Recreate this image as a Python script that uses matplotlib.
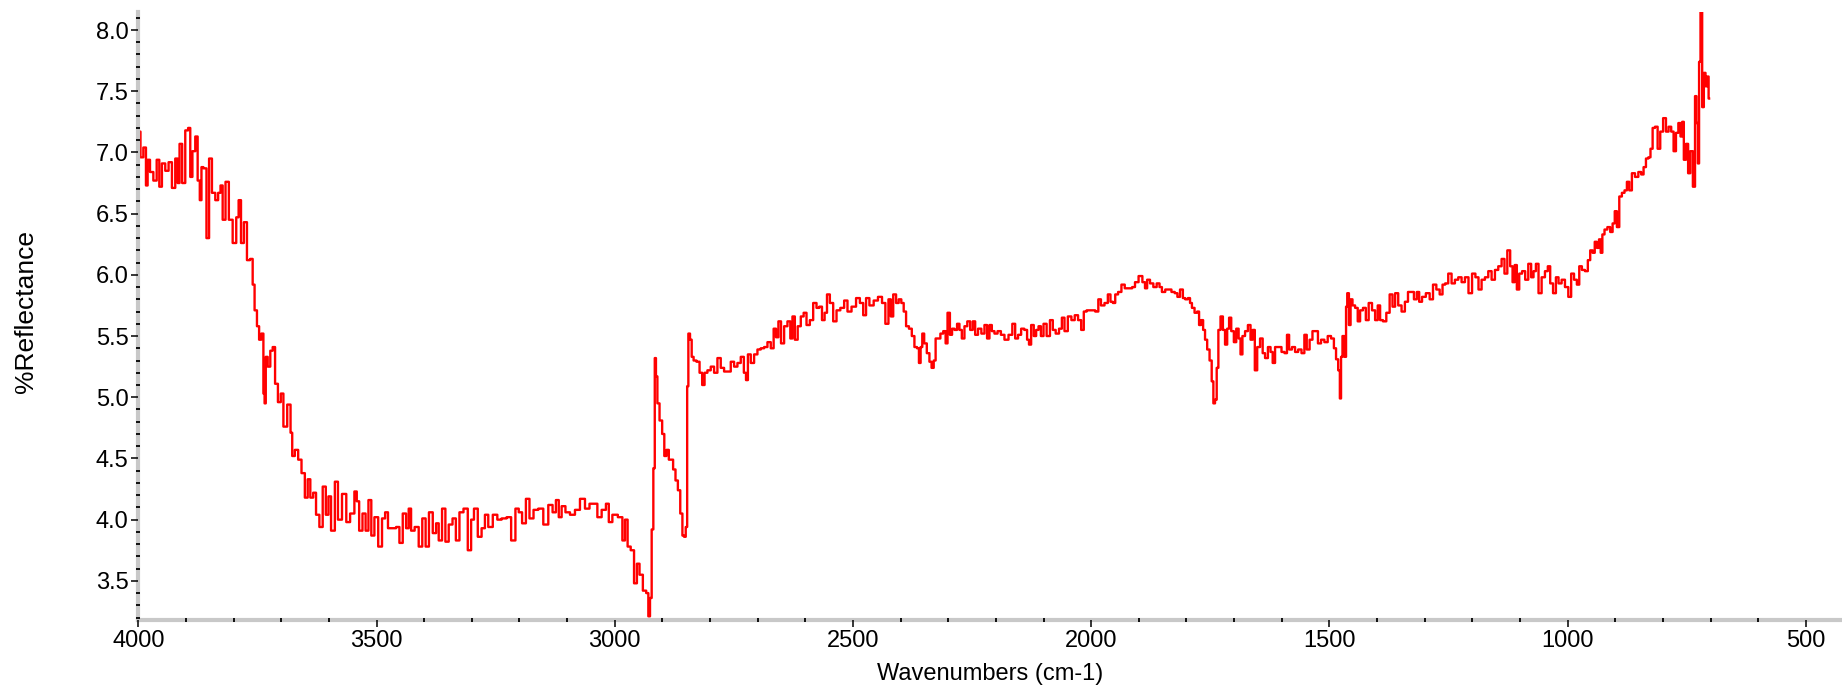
import numpy as np
import matplotlib
matplotlib.use("Agg")
import matplotlib.pyplot as plt
from matplotlib.ticker import MultipleLocator

plt.rcParams['font.family'] = ['Liberation Sans', 'DejaVu Sans']

# spectrum, descending wavenumber (cm-1) / %R
wavenumbers = [
    3998, 3993, 3986, 3982, 3979, 3972, 3965, 3958, 3954, 3947, 3940, 3933, 3926, 3919, 3916, 3911,
    3905, 3898, 3893, 3889, 3884, 3877, 3874, 3868, 3867, 3860, 3854, 3849, 3842, 3835, 3830, 3825,
    3821, 3813, 3807, 3797, 3792, 3787, 3782, 3775, 3769, 3762, 3758, 3754, 3748, 3745, 3739, 3736,
    3734, 3731, 3726, 3720, 3716, 3710, 3704, 3698, 3693, 3682, 3679, 3675, 3668, 3661, 3654, 3647,
    3642, 3636, 3630, 3624, 3616, 3610, 3603, 3599, 3592, 3583, 3579,
    3566, 3561, 3550, 3543, 3540, 3533, 3526, 3520, 3514, 3508, 3501, 3492, 3485, 3479, 3473, 3463,
    3455, 3449, 3441, 3435, 3430, 3425, 3415, 3408, 3400, 3394, 3386, 3378, 3372, 3367, 3358, 3353,
    3344, 3337, 3330, 3322, 3313, 3304, 3299, 3292, 3283, 3276, 3269, 3262, 3250, 3243, 3232, 3222,
    3213, 3204, 3199, 3190, 3183, 3175, 3166, 3155, 3145, 3134, 3127, 3120, 3115, 3108, 3099, 3089,
    3078, 3068, 3057, 3049, 3040, 3033, 3022, 3015, 3010, 3000,
    2987, 2981, 2976, 2970, 2963, 2956, 2951, 2945, 2937, 2931, 2928, 2924, 2921, 2917, 2915, 2912,
    2909, 2903, 2898, 2894, 2889, 2884, 2880, 2875, 2870, 2865, 2860, 2856, 2853, 2849, 2847, 2844,
    2840, 2837, 2832, 2825, 2819, 2814, 2809, 2802, 2795, 2788, 2781, 2774, 2767, 2760, 2753, 2746,
    2739, 2732, 2726, 2723, 2718, 2711, 2704, 2697, 2690, 2683, 2676, 2669, 2664, 2659, 2654, 2648,
    2641, 2634, 2629, 2625, 2619, 2613, 2606, 2601, 2594, 2587, 2580, 2573, 2568, 2562, 2557, 2552,
    2545, 2538, 2531, 2522, 2515, 2508, 2498, 2489, 2482, 2475, 2470, 2461, 2452, 2443, 2435, 2429,
    2422, 2419, 2412, 2407, 2401, 2396, 2391, 2386, 2379, 2374, 2368, 2363, 2360, 2356, 2353, 2348,
    2342, 2337, 2333, 2328, 2325, 2319, 2314, 2307, 2304, 2299, 2294, 2290, 2284, 2279, 2274, 2269,
    2263, 2257, 2251, 2246, 2241, 2234, 2227, 2221, 2216, 2211, 2206, 2200, 2193, 2186, 2178, 2169,
    2162, 2157, 2150, 2144, 2137, 2132, 2129, 2123, 2118, 2113, 2108, 2103, 2097, 2090, 2083, 2078,
    2071, 2064, 2059, 2053, 2045, 2038, 2031, 2024, 2018, 2013, 2006, 1996, 1987, 1983, 1976, 1968,
    1962, 1957, 1952, 1947, 1940, 1933, 1926, 1917, 1911, 1905, 1896, 1889, 1885, 1880, 1873, 1866,
    1859, 1854, 1849, 1840,
    1835, 1828, 1821, 1817, 1810, 1805, 1800, 1794, 1791, 1786, 1780, 1775, 1772, 1767, 1763, 1759,
    1754, 1749, 1745, 1742, 1738, 1735, 1731, 1726, 1721, 1717, 1712, 1709, 1703, 1698, 1693, 1688,
    1685, 1680, 1674, 1668, 1663, 1659, 1654, 1649, 1642, 1638, 1632, 1626, 1621, 1617, 1611, 1604,
    1597, 1591, 1587, 1582, 1575, 1569, 1562, 1555, 1550, 1545, 1538, 1533, 1527, 1521, 1514, 1507,
    1500, 1493, 1488, 1484, 1479, 1477, 1474, 1471, 1466, 1464, 1461, 1457, 1454, 1449, 1443, 1438,
    1433, 1426, 1421, 1414, 1407, 1401, 1396, 1391, 1384, 1377, 1370, 1365, 1359, 1352, 1345, 1338,
    1332, 1326, 1319, 1314, 1309, 1302, 1293, 1286, 1279, 1272, 1265, 1260, 1254,
    1247, 1240, 1233, 1226, 1219, 1212, 1204, 1197, 1190, 1184, 1177, 1170, 1163, 1156, 1149, 1142,
    1135, 1130, 1123, 1118, 1113, 1109, 1104, 1099, 1092, 1086, 1079, 1074, 1069, 1064, 1058, 1051,
    1044, 1039, 1034, 1027, 1022, 1016, 1009, 1002, 995, 990, 983, 978, 973, 967, 960, 955,
    950, 945, 941, 936, 932, 929, 925, 920, 913, 908, 903, 899, 894, 889, 883, 878,
    873, 868, 862, 855, 848, 843, 838, 833, 828, 824, 819, 814, 808, 803, 796, 791,
    785, 780, 775, 770, 765, 761, 758, 754, 749, 745, 740, 734, 731, 728, 725, 723,
    719, 716, 712, 709, 705, 703,
]

reflectance = [
    7.17, 6.96, 7.04, 6.73, 6.94, 6.84, 6.77, 6.94, 6.72, 6.91, 6.85, 6.92, 6.71, 6.95, 6.75, 7.07,
    6.75, 7.18, 7.20, 6.80, 7.01, 7.13, 6.77, 6.61, 6.88, 6.87, 6.30, 6.95, 6.67, 6.61, 6.67, 6.73,
    6.45, 6.76, 6.45, 6.26, 6.47, 6.61, 6.26, 6.43, 6.12, 6.13, 5.92, 5.71, 5.58, 5.47, 5.52, 5.03,
    4.95, 5.33, 5.25, 5.38, 5.41, 5.11, 4.96, 5.03, 4.76, 4.94, 4.71, 4.52, 4.57, 4.49, 4.38, 4.18,
    4.33, 4.18, 4.22, 4.04, 3.94, 4.27, 4.04, 4.19, 3.91, 4.31, 4.00,
    4.21, 3.98, 4.05, 4.23, 4.15, 3.91, 4.05, 3.91, 4.16, 3.87, 4.02, 3.78, 4.01, 4.06, 3.93, 3.93,
    3.94, 3.81, 4.05, 3.93, 4.09, 3.91, 3.94, 3.78, 4.01, 3.78, 4.06, 3.89, 3.97, 3.83, 4.09, 3.82,
    3.96, 4.01, 3.83, 4.06, 4.09, 3.75, 4.00, 4.09, 3.86, 3.93, 4.04, 3.94, 4.04, 4.00, 4.01, 4.02,
    3.83, 4.09, 4.06, 3.97, 4.17, 4.01, 4.08, 4.09, 3.96, 4.12, 4.06, 4.16, 4.02, 4.11, 4.06, 4.04,
    4.08, 4.17, 4.09, 4.13, 4.13, 4.02, 4.08, 4.13, 3.98, 4.04,
    4.02, 3.83, 4.00, 3.78, 3.75, 3.48, 3.64, 3.55, 3.42, 3.40, 3.21, 3.36, 3.92, 4.42, 5.32, 5.17,
    4.95, 4.81, 4.70, 4.52, 4.57, 4.49, 4.49, 4.41, 4.32, 4.24, 4.05, 3.87, 3.86, 3.94, 5.09, 5.52,
    5.47, 5.33, 5.30, 5.29, 5.20, 5.10, 5.20, 5.22, 5.25, 5.20, 5.32, 5.24, 5.21, 5.21, 5.29, 5.25,
    5.28, 5.33, 5.20, 5.14, 5.35, 5.28, 5.35, 5.39, 5.40, 5.41, 5.45, 5.40, 5.56, 5.49, 5.62, 5.44,
    5.58, 5.62, 5.48, 5.66, 5.47, 5.58, 5.66, 5.69, 5.59, 5.63, 5.77, 5.73, 5.74, 5.63, 5.69, 5.84,
    5.77, 5.62, 5.71, 5.73, 5.79, 5.70, 5.74, 5.81, 5.77, 5.67, 5.81, 5.75, 5.79, 5.82, 5.77, 5.60,
    5.80, 5.66, 5.84, 5.77, 5.80, 5.77, 5.70, 5.58, 5.56, 5.50, 5.41, 5.40, 5.28, 5.41, 5.52, 5.44,
    5.36, 5.29, 5.24, 5.30, 5.48, 5.48, 5.52, 5.54, 5.44, 5.69, 5.51, 5.56, 5.55, 5.60, 5.55, 5.48,
    5.58, 5.62, 5.55, 5.62, 5.51, 5.56, 5.52, 5.59, 5.48, 5.59, 5.54, 5.52, 5.54, 5.51, 5.47, 5.51,
    5.60, 5.48, 5.51, 5.56, 5.55, 5.47, 5.43, 5.59, 5.50, 5.55, 5.58, 5.50, 5.60, 5.50, 5.63, 5.55,
    5.52, 5.56, 5.65, 5.54, 5.66, 5.63, 5.67, 5.63, 5.55, 5.70, 5.71, 5.71, 5.70, 5.80, 5.75, 5.77,
    5.84, 5.78, 5.77, 5.84, 5.86, 5.92, 5.89, 5.89, 5.90, 5.94, 5.99, 5.94, 5.89, 5.96, 5.93, 5.90,
    5.93, 5.90, 5.86, 5.88,
    5.88, 5.86, 5.85, 5.82, 5.88, 5.81, 5.80, 5.81, 5.77, 5.73, 5.69, 5.70, 5.59, 5.63, 5.55, 5.47,
    5.39, 5.30, 5.13, 4.95, 4.98, 5.24, 5.55, 5.66, 5.55, 5.43, 5.56, 5.65, 5.54, 5.45, 5.56, 5.48,
    5.35, 5.50, 5.54, 5.59, 5.47, 5.55, 5.22, 5.41, 5.48, 5.36, 5.32, 5.41, 5.37, 5.28, 5.41, 5.41,
    5.37, 5.36, 5.51, 5.39, 5.41, 5.37, 5.39, 5.36, 5.51, 5.39, 5.47, 5.54, 5.54, 5.44, 5.47, 5.45,
    5.50, 5.48, 5.40, 5.31, 5.22, 4.99, 5.33, 5.50, 5.33, 5.74, 5.85, 5.59, 5.80, 5.75, 5.73, 5.62,
    5.71, 5.73, 5.63, 5.77, 5.71, 5.63, 5.75, 5.63, 5.62, 5.69, 5.84, 5.74, 5.85, 5.75, 5.70, 5.78,
    5.86, 5.86, 5.80, 5.86, 5.78, 5.82, 5.85, 5.80, 5.92, 5.88, 5.84, 5.92, 5.93,
    6.01, 5.93, 5.96, 5.98, 5.94, 5.98, 5.85, 6.01, 5.98, 5.88, 5.96, 5.98, 6.03, 5.96, 6.04, 6.07,
    6.13, 6.01, 6.20, 6.07, 5.94, 6.08, 5.88, 6.01, 6.03, 5.96, 6.09, 5.98, 6.03, 6.09, 5.85, 5.98,
    6.03, 6.07, 5.93, 5.85, 5.98, 5.93, 5.96, 5.90, 5.82, 6.01, 5.96, 5.92, 6.07, 6.04, 6.03, 6.12,
    6.20, 6.18, 6.27, 6.22, 6.29, 6.18, 6.33, 6.37, 6.39, 6.35, 6.42, 6.52, 6.39, 6.64, 6.67, 6.69,
    6.76, 6.69, 6.83, 6.80, 6.84, 6.82, 6.88, 6.95, 6.96, 7.03, 7.20, 7.21, 7.03, 7.17, 7.28, 7.17,
    7.21, 7.17, 7.01, 7.16, 7.24, 7.13, 7.25, 6.94, 7.07, 6.83, 7.01, 6.72, 7.46, 7.24, 6.91, 7.74,
    8.15, 7.37, 7.65, 7.54, 7.62, 7.44,
]

x_ticks = [4000, 3500, 3000, 2500, 2000, 1500, 1000, 500]
y_ticks = [3.5, 4.0, 4.5, 5.0, 5.5, 6.0, 6.5, 7.0, 7.5, 8.0]

fig = plt.figure(figsize=(18.42, 6.87), dpi=100)
ax = fig.add_axes([0.0751, 0.0975, 0.9249, 0.885])

ax.plot(wavenumbers, reflectance, color='#ff0000', lw=1.7, drawstyle='steps-mid')

ax.set_xlim(4000, 424)
ax.set_ylim(3.18, 8.147)
ax.set_xticks(x_ticks)
ax.set_yticks(y_ticks)
ax.set_yticklabels([f'{v:.1f}' for v in y_ticks])
ax.xaxis.set_minor_locator(MultipleLocator(100))
ax.yaxis.set_minor_locator(MultipleLocator(0.1))

for side in ['top', 'right']:
    ax.spines[side].set_visible(False)
for side in ['left', 'bottom']:
    ax.spines[side].set_color('#c8c8c8')
    ax.spines[side].set_linewidth(3)

ax.set_axisbelow(False)
ax.tick_params(which='major', direction='out', length=5, width=1.1, color='black',
               labelsize=17, pad=2)
ax.tick_params(which='minor', direction='inout', length=3, width=1.3, color='black')

ax.set_xlabel('Wavenumbers (cm-1)', fontsize=17)
ax.set_ylabel('%Reflectance', fontsize=19)
ax.xaxis.set_label_coords(0.5, -0.071)
ax.yaxis.set_label_coords(-0.066, 0.508)
ax.yaxis.label.set_verticalalignment('center')

fig.savefig('out.png', dpi=100)
